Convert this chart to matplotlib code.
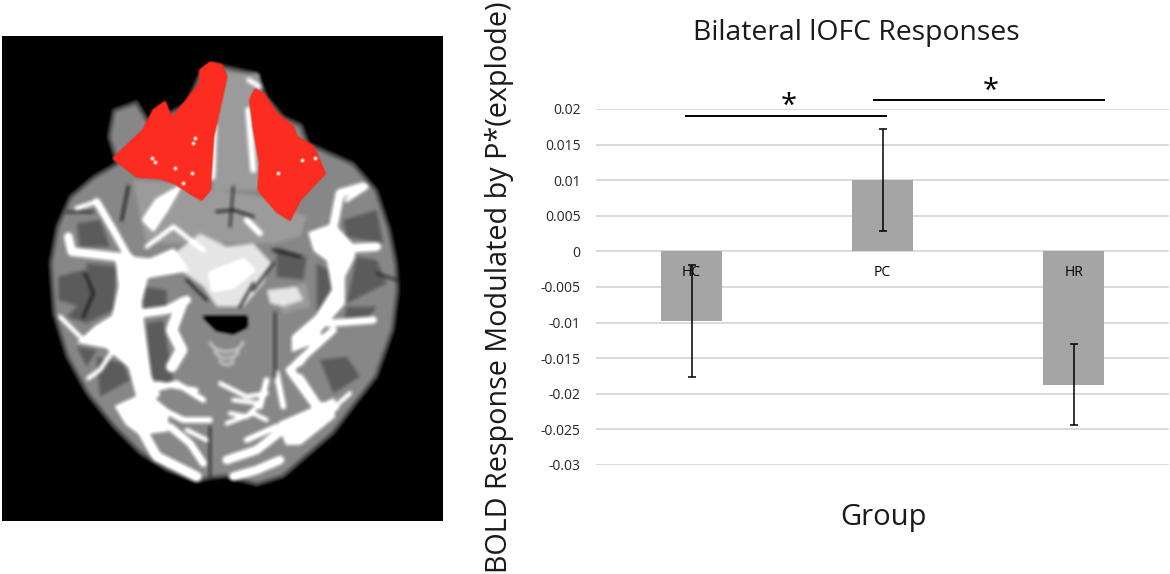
import numpy as np
import matplotlib
matplotlib.use('Agg')
import matplotlib.pyplot as plt
from matplotlib.figure import Figure
from matplotlib.backends.backend_agg import FigureCanvasAgg
from matplotlib.patches import Polygon

plt.rcParams['font.family'] = ['Open Sans', 'DejaVu Sans']

groups = ['HC', 'PC', 'HR']
values = [-0.0098, 0.0100, -0.0187]
errors = [0.0079, 0.0072, 0.0057]
yticks = [0.02, 0.015, 0.01, 0.005, 0, -0.005, -0.01, -0.015, -0.02, -0.025, -0.03]
ytick_labels = ['0.02', '0.015', '0.01', '0.005', '0', '-0.005', '-0.01', '-0.015', '-0.02', '-0.025', '-0.03']

W, H = 1170, 574

# brain slice sketch, coordinates are pixels of a 445x495 crop x3
outline = [(640,100),(680,110),(770,130),(800,200),(850,260),(905,285),(925,340),(1060,400),(1130,480),
           (1170,600),(1190,700),(1195,780),(1180,900),(1130,1040),(1060,1130),(1000,1210),(930,1270),
           (850,1340),(770,1365),(680,1340),(630,1345),(590,1355),(500,1320),(420,1270),(340,1190),
           (260,1090),(200,980),(160,850),(150,700),(170,590),(210,500),(280,440),(350,400),(325,320),
           (340,240),(410,215),(450,280),(560,220),(600,130)]
mid_blobs = [
    [(400,450),(520,460),(780,500),(920,560),(900,620),(820,640),(520,640),(440,640),(420,560)],
    [(640,130),(780,130),(790,300),(780,480),(640,480)],
    [(820,780),(920,760),(930,830),(850,850)],
]
dark_blobs = [
    [(175,740),(250,720),(265,790),(240,830),(175,810)],
    [(230,580),(300,570),(330,650),(240,650)],
    [(260,700),(350,710),(340,840),(260,880),(200,860),(260,800)],
    [(430,770),(500,780),(500,840),(430,840)],
    [(440,880),(490,870),(520,1060),(450,1050)],
    [(950,700),(985,720),(1000,780),(950,850)],
    [(1070,680),(1130,690),(1160,760),(1040,820)],
    [(1040,830),(1130,830),(1100,870),(1030,880)],
    [(1030,570),(1130,540),(1150,640),(1040,620)],
    [(960,990),(1040,980),(1080,1040),(1000,1090)],
    [(290,980),(370,1000),(390,1050),(300,1100)],
    [(830,650),(920,680),(910,750),(830,740)],
    [(230,950),(290,960),(260,1010)],
]
light_blobs = [
    [(510,680),(600,610),(680,650),(760,640),(815,700),(790,760),(730,830),(650,830),(610,770),(540,720)],
    [(800,780),(890,770),(910,810),(850,830),(810,820)],
]
white_blobs = [
    [(350,680),(450,690),(520,660),(560,720),(440,740),(420,820),(430,900),(450,1040),(475,1095),(420,1125),
     (390,1010),(320,950),(240,935),(290,890),(340,860),(360,770)],
    [(930,610),(1000,585),(1060,650),(1060,680),(1030,740),(1030,820),(985,870),(930,940),(880,960),
     (880,920),(950,860),(1000,780),(985,690),(945,660)],
    [(350,1130),(440,1090),(500,1140),(500,1200),(420,1210),(380,1180)],
    [(630,730),(730,690),(760,720),(700,770),(640,780)],
    [(430,570),(470,510),(540,470),(500,540),(460,600)],
    [(840,1180),(1000,1110),(1000,1160),(900,1240),(860,1240)],
]
# (width in points, points)
white_lines = [
    (5, [(290,515),(340,600),(390,690)]), (3, [(230,535),(290,515)]),
    (6, [(205,620),(215,665),(390,685)]), (3, [(180,860),(220,900),(250,930)]),
    (3, [(340,960),(300,1020),(265,1045)]), (6, [(560,810),(500,840),(425,850)]),
    (8, [(545,820),(515,900),(545,960),(515,1010)]), (4, [(450,1080),(530,1060),(610,1110)]),
    (4, [(470,1130),(550,1170),(630,1170)]), (7, [(420,1190),(470,1280),(590,1340)]),
    (5, [(510,1190),(570,1240),(610,1300)]), (3, [(560,1200),(620,1230)]),
    (3, [(610,660),(520,590),(440,650)]), (5, [(640,290),(635,440)]), (4, [(745,240),(760,420)]),
    (3, [(745,150),(780,170)]), (4, [(740,570),(780,610)]),
    (6, [(1000,590),(1020,490),(1090,470)]), (3, [(1040,510),(1100,470)]), (6, [(1050,655),(1130,650)]),
    (5, [(985,880),(1120,870)]), (5, [(1000,900),(900,990),(880,1010)]), (4, [(960,920),(900,1000)]),
    (6, [(870,1020),(950,1130),(1005,1130)]), (4, [(900,1040),(960,1130)]), (6, [(860,1190),(770,1260),(680,1290)]),
    (6, [(700,1340),(770,1320),(840,1290)]), (4, [(740,1230),(830,1190)]), (3, [(660,1060),(740,1100),(800,1090)]),
    (3, [(700,1110),(780,1120),(740,1160),(690,1150)]), (3, [(680,1180),(760,1150),(800,1170)]),
    (4, [(830,1030),(850,1130)]), (3, [(960,1170),(1050,1090)]), (4, [(800,1050),(780,1130)]),
    (3, [(470,1060),(590,1080)]), (2.5, [(430,1000),(430,1090)]),
]
dark_lines = [
    (1.5, [(825,850),(825,1040)]), (1.8, [(560,750),(620,810)]), (1.8, [(650,545),(700,540),(760,560)]),
    (1.5, [(700,470),(690,590)]), (1.5, [(630,1190),(630,1340)]), (2, [(385,470),(365,570)]),
    (2.2, [(255,730),(280,790),(250,860)]), (2, [(820,660),(900,680)]), (1.8, [(760,760),(720,830)]),
    (1.8, [(820,700),(760,780)]), (1.5, [(200,545),(280,545)]), (1.5, [(1130,730),(1190,750)]),
]
hole = [(610,860),(740,860),(740,890),(700,910),(650,900)]
ring_offsets = [30, 60, 90]
red_left = [(630,97),(665,105),(680,140),(660,230),(640,320),(630,480),(605,510),(570,490),(525,460),(480,445),
            (410,440),(340,385),(430,300),(460,240),(495,215),(515,265),(560,210),(600,160),(600,120)]
red_right = [(765,178),(790,190),(830,250),(880,290),(890,320),(940,350),(975,430),(900,510),(870,570),
             (830,545),(775,480),(780,400),(760,290),(750,210)]
specks = [(455,385),(465,395),(585,325),(580,340),(525,415),(550,458),(575,430),(835,430),(905,390),(945,385)]


def box_blur(a, r):
    k = np.ones(2 * r + 1) / (2 * r + 1)
    for axis in (0, 1):
        a = np.apply_along_axis(lambda m: np.convolve(m, k, mode='same'), axis, a)
    return a


def brain_layer(draw):
    f = Figure(figsize=(4.45, 4.95), dpi=100, facecolor='black')
    FigureCanvasAgg(f)
    a = f.add_axes([0, 0, 1, 1])
    a.set_xlim(0, 1335)
    a.set_ylim(1485, 0)
    a.axis('off')
    draw(a)
    f.canvas.draw()
    return np.asarray(f.canvas.buffer_rgba())[:, :, :3].astype(float) / 255


def draw_brain(a):
    a.add_patch(Polygon(outline, fc='#8a8a8a', ec='#505050', lw=3))
    for p in mid_blobs:
        a.add_patch(Polygon(p, fc='#9c9c9c', ec='none'))
    for p in dark_blobs:
        a.add_patch(Polygon(p, fc='#646464', ec='none'))
    for p in light_blobs:
        a.add_patch(Polygon(p, fc='#dcdcdc', ec='none'))
    for p in white_blobs:
        a.add_patch(Polygon(p, fc='white', ec='white', lw=2))
    for lw, l in white_lines:
        a.plot(*zip(*l), color='white', lw=lw, solid_capstyle='round', solid_joinstyle='round')
    for lw, l in dark_lines:
        a.plot(*zip(*l), color='#303030', lw=lw)
    a.add_patch(Polygon(hole, fc='black', ec='black'))
    t = np.linspace(0.2, 2.9, 20)
    for r in ring_offsets:
        a.plot(680 + (130 - r) * 0.5 * np.cos(t), 900 + r + (130 - r) * 0.35 * np.sin(t), color='#c8c8c8', lw=2)


def draw_red(a):
    a.add_patch(Polygon(red_left, fc='#e8190e', ec='#e8190e', lw=1))
    a.add_patch(Polygon(red_right, fc='#e8190e', ec='#e8190e', lw=1))
    a.plot(*zip(*specks), ls='none', marker='o', ms=2.5, mfc='white', mec='none')


img = box_blur(box_blur(brain_layer(draw_brain), 2), 1)
img = np.clip((img - 0.08) * 1.15, 0, 1)
red = box_blur(brain_layer(draw_red), 1)
mask = np.clip((red[:, :, 0] - red[:, :, 1]) * 1.6, 0, 1)[:, :, None]
img = img * (1 - mask) + np.array([0.91, 0.10, 0.05]) * mask
img = np.clip(img + red[:, :, 1:2] * 0.8, 0, 1)

fig = plt.figure(figsize=(W / 100, H / 100), dpi=100, facecolor='white')


def px_axes(x0, y0, x1, y1):
    return fig.add_axes([x0 / W, 1 - y1 / H, (x1 - x0) / W, (y1 - y0) / H])


ax_img = px_axes(2, 36, 443, 521)
ax_img.imshow(img[6:491, 2:443], aspect='auto', interpolation='bilinear')
ax_img.axis('off')

ax = px_axes(596, 109, 1169, 465)
x = np.arange(len(groups))
ax.hlines(yticks, -0.5, 2.5, color='#d9d9d9', lw=1.4, zorder=0)
ax.bar(x, values, width=0.315, color='#a5a5a5', zorder=2)
ax.errorbar(x, values, yerr=errors, fmt='none', ecolor='black', elinewidth=1.1, capsize=3, capthick=1.1, zorder=3)
ax.set_xlim(-0.5, 2.5)
ax.set_ylim(-0.03, 0.02)
ax.set_yticks(yticks)
ax.set_yticklabels(ytick_labels, fontsize=10, color='#262626')
ax.set_xticks(x)
ax.set_xticklabels(groups, fontsize=10, color='black')
ax.set_axisbelow(False)
for s in ax.spines.values():
    s.set_visible(False)
ax.tick_params(axis='y', length=0, pad=11)
ax.tick_params(axis='x', length=0, pad=10)
ax.spines['bottom'].set_position(('data', 0))

# significance bars
ax.plot([-0.03, 1.02], [0.019, 0.019], color='black', lw=1.4, clip_on=False)
ax.plot([0.958, 2.158], [0.0213, 0.0213], color='black', lw=1.4, clip_on=False)
ax.text(0.508, 0.0203, '*', fontsize=21, ha='center', va='center', clip_on=False)
ax.text(1.565, 0.0224, '*', fontsize=21, ha='center', va='center', clip_on=False)

fig.text(856 / W, 1 - 33 / H, 'Bilateral lOFC Responses', fontsize=20.4, ha='center', va='center', color='#1a1a1a')
fig.text(883 / W, 1 - 517 / H, 'Group', fontsize=21, ha='center', va='center', color='#1a1a1a')
fig.text(500 / W, 1 - 287 / H, 'BOLD Response Modulated by P*(explode)', fontsize=20.7, rotation=90,
         ha='center', va='center', color='#1a1a1a')

fig.savefig('out.png', dpi=100)
plt.close('all')
